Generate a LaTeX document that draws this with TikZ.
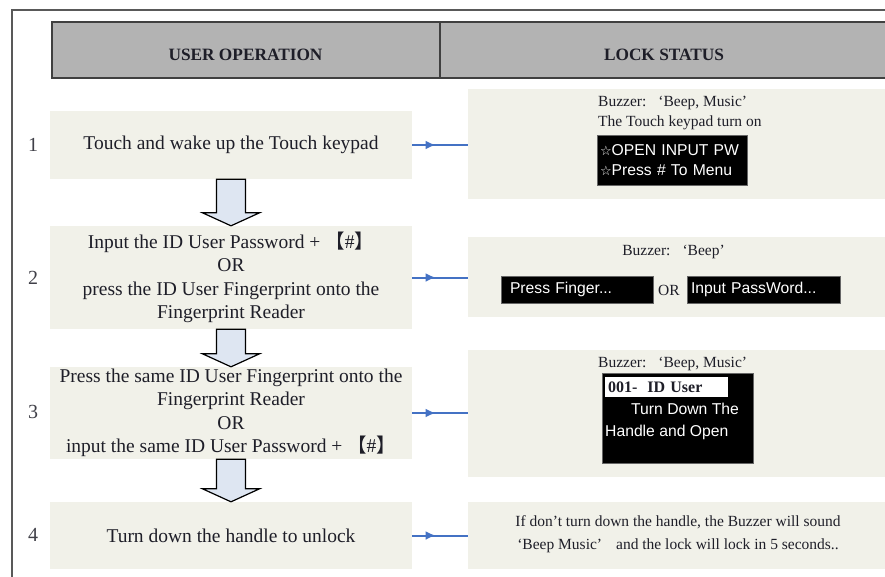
\documentclass[tikz,border=0pt]{standalone}
\usepackage{fontspec}
\setmainfont{Liberation Serif}
\setsansfont{Liberation Sans}
\newfontfamily\cjk{Noto Sans CJK SC}
\newfontfamily\starfont{DejaVu Sans}
\usetikzlibrary{shapes,arrows,arrows.meta,decorations.markings}
\definecolor{panel}{RGB}{241,241,233}
\definecolor{headgray}{RGB}{179,179,179}
\definecolor{linkblue}{RGB}{68,114,196}
\definecolor{arrowfill}{RGB}{222,230,242}
\definecolor{ink}{RGB}{30,30,40}

\begin{document}
\begin{tikzpicture}[x=1pt,y=-1pt,
  opbox/.style={rectangle,fill=panel,inner sep=0pt,minimum width=362pt,align=center,text=ink,font=\fontsize{19.5}{23.5}\selectfont},
  statbox/.style={rectangle,fill=panel,inner sep=0pt,minimum width=417pt},
  headbox/.style={rectangle,draw=black!75,line width=1.5pt,fill=headgray,inner sep=0pt,minimum height=56pt},
  headtext/.style={font=\fontsize{17.3}{20}\selectfont\bfseries,text=ink},
  stepnum/.style={font=\fontsize{20}{24}\selectfont,text=ink!85},
  buzz/.style={font=\fontsize{15.5}{20}\selectfont,text=ink,align=left,inner sep=0pt},
  lcd/.style={rectangle,fill=black,draw=black!60,inner ysep=0pt,text=white,align=left,font=\sffamily\fontsize{15.7}{20}\selectfont},
  link/.style={draw=linkblue,line width=2pt,postaction={decorate},
    decoration={markings,mark=at position 0.42 with {\arrow{Latex[length=10pt,width=9pt]}}}},
  blockarrow/.style={draw=black,line width=1.2pt,fill=arrowfill,line join=miter}]
\useasboundingbox (0,0) rectangle (885,576);
% frame
\draw[black!65,line width=2.5pt] (886,10) -- (12,10) -- (12,577);
% header
\node[headbox,minimum width=388pt] (h1) at (246,50) {};
\node[headbox,minimum width=447pt] (h2) at (663.5,50) {};
\node[headtext] (t1) at (245.5,55) {USER OPERATION};
\node[headtext] (t2) at (664,55) {LOCK STATUS};
% user operation
\node[opbox,minimum height=68pt] (l1) at (231,145) {Touch and wake up the Touch keypad};
\node[opbox,minimum height=103pt] (l2) at (231,277.5) {Input the ID User Password + {\cjk 【}\#{\cjk 】}\\OR\\press the ID User Fingerprint onto the\\Fingerprint Reader};
\node[opbox,minimum height=92pt] (l3) at (231,413) {Press the same ID User Fingerprint onto the\\Fingerprint Reader\\OR\\input the same ID User Password + {\cjk 【}\#{\cjk 】}};
\node[opbox,minimum height=67pt] (l4) at (231,535.5) {Turn down the handle to unlock};
\node[stepnum] (n1) at (33,145) {1};
\node[stepnum] (n2) at (33,278) {2};
\node[stepnum] (n3) at (33,412) {3};
\node[stepnum] (n4) at (33,535) {4};
\foreach \a/\b in {l1/l2,l2/l3,l3/l4}
  \draw[blockarrow] ([xshift=-14.5pt]\a.south) -- ([xshift=14.5pt]\a.south)
    -- ([xshift=14.5pt,yshift=13pt]\b.north) -- ([xshift=28.5pt,yshift=13pt]\b.north)
    -- (\b.north) -- ([xshift=-28.5pt,yshift=13pt]\b.north)
    -- ([xshift=-14.5pt,yshift=13pt]\b.north) -- cycle;
% lock status
\node[statbox,minimum height=110pt] (r1) at (676.5,144) {};
\node[statbox,minimum height=80pt] (r2) at (676.5,277) {};
\node[statbox,minimum height=127pt] (r3) at (676.5,413.5) {};
\node[statbox,minimum height=67pt] (r4) at (676.5,535.5) {};
\node[buzz,anchor=west] (z1) at (598,113) {Buzzer:\hspace{12pt}‘Beep, Music’\\The Touch keypad turn on};
\node[lcd,inner xsep=3pt,text width=144pt,minimum height=50pt] (s1) at (672,160) {{\starfont\fontsize{13}{20}\selectfont ☆}OPEN INPUT PW\\{\starfont\fontsize{13}{20}\selectfont ☆}Press \# To Menu};
\node[buzz] (z2) at (673.5,252) {Buzzer:\hspace{12pt}‘Beep’};
\node[lcd,inner xsep=9pt,text width=134pt,minimum height=27pt] (s2) at (577,289.5) {Press Finger...};
\node[buzz] (or2) at (669,290) {OR};
\node[lcd,inner xsep=4pt,text width=145pt,minimum height=27pt] (s3) at (763.5,289.5) {Input PassWord...};
\node[buzz,anchor=west] (z3) at (598,364) {Buzzer:\hspace{12pt}‘Beep, Music’};
\node[lcd,minimum width=151pt,minimum height=90pt] (s4) at (677.5,418) {};
\node[rectangle,fill=white,inner sep=0pt,minimum width=123pt,minimum height=20pt,text width=117pt,align=left,
  font=\fontsize{16}{20}\selectfont\bfseries,text=ink] (u4) at (666.5,387) {001-\hspace{10pt}ID User};
\node[lcd,draw=none,anchor=west,inner xsep=0pt,font=\sffamily\fontsize{15.7}{22}\selectfont] (s5) at (605,421) {\hspace{26pt}Turn Down The\\Handle and Open};
\node[buzz,align=center,font=\fontsize{15.5}{23}\selectfont] (z4) at (678,534.5) {If don't turn down the handle, the Buzzer will sound\\‘Beep Music’\hspace{14pt}and the lock will lock in 5 seconds..};
% links
\draw[link] (l1.east) -- (l1.east -| r1.west);
\draw[link] (l2.east) -- (l2.east -| r2.west);
\draw[link] (l3.east) -- (l3.east -| r3.west);
\draw[link] (l4.east) -- (l4.east -| r4.west);
\end{tikzpicture}
\end{document}
